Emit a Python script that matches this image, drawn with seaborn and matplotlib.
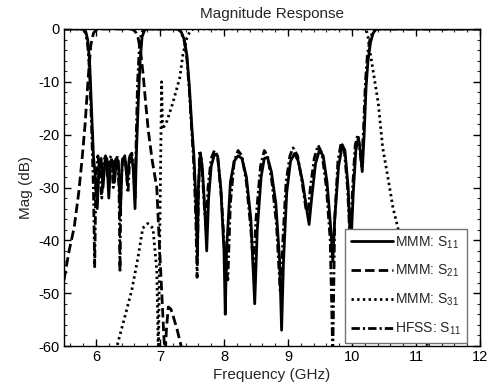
import numpy as np
import pandas as pd
import matplotlib
matplotlib.use("Agg")
import matplotlib.pyplot as plt
import seaborn as sns
from matplotlib.ticker import MultipleLocator

# ---------------- data ----------------
mmm_s11_f = [5.50, 5.80, 5.84, 5.87, 5.90, 5.93, 5.96, 5.99, 6.02, 6.05, 6.08, 6.11, 6.14,
             6.17, 6.20, 6.23, 6.26, 6.29, 6.32, 6.35, 6.38, 6.41, 6.45, 6.49, 6.52, 6.55,
             6.58, 6.61, 6.63, 6.66, 6.69, 6.72, 6.76, 6.80, 7.28, 7.33, 7.38, 7.42, 7.46,
             7.50, 7.53, 7.56, 7.585, 7.60, 7.63, 7.66, 7.70, 7.73, 7.76, 7.80, 7.85, 7.90,
             7.95, 8.00, 8.02, 8.04, 8.10, 8.16, 8.22, 8.28, 8.35, 8.42, 8.48, 8.52, 8.58,
             8.63, 8.68, 8.74, 8.81, 8.87, 8.90, 8.93, 8.98, 9.04, 9.10, 9.16, 9.23, 9.29,
             9.33, 9.37, 9.43, 9.49, 9.55, 9.61, 9.67, 9.70, 9.73, 9.79, 9.85, 9.89, 9.94,
             9.98, 10.02, 10.06, 10.10, 10.13, 10.16, 10.19, 10.22, 10.25, 10.29, 10.33,
             10.38, 12.00]
mmm_s11_db = [0, 0, -0.5, -2, -6, -15, -24, -28, -34, -25, -24.5, -30, -25,
              -24.5, -32, -25, -25, -29, -24.5, -25, -35, -25, -24, -29, -24.5, -24,
              -26, -34, -24, -14, -6, -1.5, -0.2, 0, 0, -0.5, -2, -5, -11,
              -19, -24, -32, -43, -30, -23.5, -26, -34, -42, -32, -26, -23.7, -24,
              -30, -42, -54, -42, -29, -25, -24, -24.5, -28, -36, -52, -38, -28,
              -24.5, -24.3, -27, -33, -44, -57, -44, -31, -25, -23.6, -25, -29, -34,
              -37, -32, -25.5, -23, -24, -29, -38, -44, -36, -26, -22, -23, -30,
              -42, -31, -23, -20.6, -23, -27, -20, -11, -6, -2.5, -0.8,
              0, 0]

mmm_s21_f = [5.50, 5.58, 5.66, 5.73, 5.78, 5.83, 5.88, 5.92, 5.96, 6.00, 6.05, 6.55, 6.60,
             6.63, 6.66, 6.70, 6.74, 6.78, 6.82, 6.88, 6.95, 6.98, 7.02, 7.06, 7.08, 7.10,
             7.13, 7.17, 7.21, 7.27, 7.34, 7.40]
mmm_s21_db = [-47.5, -42, -37.5, -31, -25, -18, -9, -3, -0.8, -0.2, 0, 0, -0.3,
              -0.8, -1.8, -4.5, -9, -14.5, -19.5, -25, -30, -38, -48, -58, -62, -57,
              -52.6, -53, -54.5, -57, -60.5, -63]

mmm_s31_f = [6.30, 6.34, 6.45, 6.56, 6.66, 6.73, 6.81, 6.89, 6.95, 6.975, 7.025, 7.04,
             7.06, 7.11, 7.20, 7.31, 7.36, 7.42, 7.47, 7.52, 10.22, 10.25, 10.28, 10.33,
             10.41, 10.48, 10.56, 10.64, 10.70, 10.80, 10.90, 11.00, 11.10, 11.17, 11.22]
mmm_s31_db = [-63, -59.5, -54.5, -49.4, -43, -37.7, -36.8, -37.7, -45.7, -62, -10, -19,
              -18.5, -17.4, -14, -9.2, -4.7, -1.7, -0.4, 0, 0, -1.5, -4.2, -7.9,
              -14, -22.5, -28, -33.8, -36.8, -42, -47, -52, -56.5, -59.5, -62]

hfss_s11_f = [5.50, 5.80, 5.84, 5.87, 5.90, 5.93, 5.96, 5.98, 6.00, 6.03, 6.06, 6.09, 6.12,
              6.15, 6.18, 6.21, 6.24, 6.27, 6.30, 6.33, 6.36, 6.375, 6.39, 6.42, 6.46, 6.50,
              6.53, 6.56, 6.59, 6.61, 6.63, 6.65, 6.68, 6.71, 6.75, 7.28, 7.33, 7.38, 7.42,
              7.46, 7.50, 7.53, 7.56, 7.58, 7.60, 7.62, 7.65, 7.69, 7.72, 7.75, 7.80, 7.85,
              7.90, 7.96, 8.02, 8.06, 8.10, 8.16, 8.22, 8.28, 8.35, 8.42, 8.46, 8.50, 8.57,
              8.63, 8.68, 8.75, 8.82, 8.88, 8.92, 8.97, 9.03, 9.08, 9.15, 9.22, 9.28, 9.31,
              9.35, 9.41, 9.47, 9.53, 9.60, 9.66, 9.70, 9.73, 9.78, 9.83, 9.88, 9.93, 9.97,
              10.01, 10.05, 10.09, 10.12, 10.15, 10.18, 10.21, 10.24, 10.28, 10.32, 10.37,
              12.00]
hfss_s11_db = [0, 0, -0.8, -3, -8, -18, -30, -45, -28, -24, -27, -32, -25,
               -24, -28, -24.5, -24, -30, -25, -24, -30, -46, -30, -24, -24.5, -31,
               -24, -23.5, -27, -32, -20, -10, -3, -0.8, 0, 0, -0.6, -2.3, -5.5,
               -12, -20, -26, -36, -47, -32, -23, -25, -33, -38, -30, -24.5, -23,
               -24, -32, -44, -47.5, -33, -25, -23, -24, -29, -38, -45, -36, -26,
               -23, -24, -29, -37, -50, -40, -29, -24, -22.5, -24, -29, -34, -35,
               -30, -24.5, -22, -23.5, -30, -40, -62, -36, -25, -21.5, -23, -30, -40,
               -30, -22, -20, -22.5, -26, -19, -10, -5, -2, -0.6, 0,
               0]

labels = ["MMM: S$_{11}$", "MMM: S$_{21}$", "MMM: S$_{31}$", "HFSS: S$_{11}$"]
title = "Magnitude Response"
xlabel = "Frequency (GHz)"
ylabel = "Mag (dB)"
xticks = [6, 7, 8, 9, 10, 11, 12]
yticks = [0, -10, -20, -30, -40, -50, -60]

# ---------------- styling ----------------
sns.set_style("ticks")
plt.rcParams["font.family"] = ["Liberation Sans", "DejaVu Sans"]
plt.rcParams["mathtext.fontset"] = "custom"
plt.rcParams["mathtext.rm"] = "Liberation Sans"
plt.rcParams["mathtext.it"] = "Liberation Sans:italic"
plt.rcParams["axes.unicode_minus"] = False
plt.rcParams["xtick.direction"] = "in"
plt.rcParams["ytick.direction"] = "in"
plt.rcParams["xtick.top"] = True
plt.rcParams["ytick.right"] = True

fig = plt.figure(figsize=(4.91, 3.88), dpi=100)
ax = fig.add_axes([0.1303, 0.1082, 0.8473, 0.8171])

lw = 2.0
series = [
    (mmm_s11_f, mmm_s11_db, "-"),
    (mmm_s21_f, mmm_s21_db, (0, (3.4, 1.5))),
    (mmm_s31_f, mmm_s31_db, (0, (0.85, 1.2))),
    (hfss_s11_f, hfss_s11_db, (0, (3.0, 1.1, 0.8, 1.1))),
]
for (f, db, ls), lab in zip(series, labels):
    df = pd.DataFrame({"f": f, "db": db})
    sns.lineplot(data=df, x="f", y="db", ax=ax, color="black", linewidth=lw,
                 linestyle=ls, estimator=None, sort=False, label=lab)

ax.set_xlim(5.5, 12)
ax.set_ylim(-60, 0)
ax.set_xticks(xticks)
ax.set_yticks(yticks)
ax.xaxis.set_minor_locator(MultipleLocator(0.2))
ax.yaxis.set_minor_locator(MultipleLocator(2))
ax.tick_params(which="major", length=5, width=1, labelsize=10.5, colors="black", pad=3)
ax.tick_params(which="minor", length=2.5, width=0.8, top=True, right=True)
for s in ax.spines.values():
    s.set_linewidth(1.0)
    s.set_color("black")

ax.set_title(title, fontsize=11, pad=8)
ax.set_xlabel(xlabel, fontsize=11, labelpad=3)
ax.set_ylabel(ylabel, fontsize=11, labelpad=4)

leg = ax.legend(loc="lower right", bbox_to_anchor=(0.968, 0.01), borderaxespad=0,
                fontsize=10, handlelength=3.0, handletextpad=0.15, labelspacing=0.9,
                borderpad=0.4, fancybox=False, framealpha=1, edgecolor="0.45")
leg.get_frame().set_linewidth(1.0)

fig.savefig("out.png", dpi=100)
